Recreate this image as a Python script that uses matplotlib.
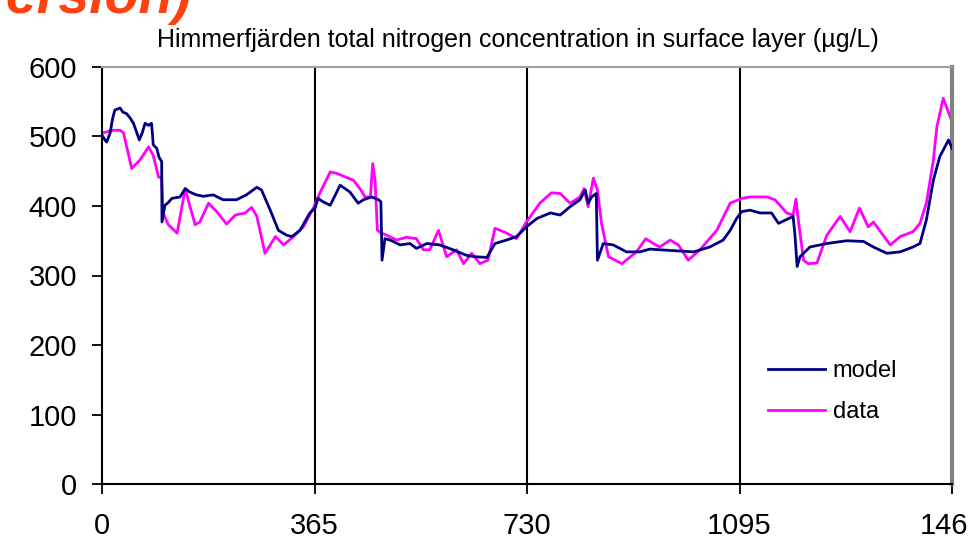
import matplotlib
matplotlib.use('Agg')
import matplotlib.pyplot as plt

plt.rcParams['font.family'] = ['Liberation Sans', 'DejaVu Sans']

# model series (day, ug/L)
model_day = [0, 5, 8, 14, 18, 22, 31, 36, 42, 48, 54, 60, 64, 69, 74, 80, 85, 87, 88, 94,
             98, 102.5, 103, 108, 114, 120, 134, 143, 151, 162, 174, 191, 208, 231, 248,
             266, 274, 289, 303, 317, 326, 340, 357, 366, 371, 380, 392, 409, 426, 440,
             449, 463, 475, 479, 481, 486, 495, 512, 529, 540, 558, 580, 603, 626, 641,
             661, 675, 695, 712, 729, 747, 770, 787, 804, 821, 830, 835, 841, 849, 851,
             861, 878, 901, 924, 941, 958, 1016, 1044, 1067, 1079, 1090, 1099, 1113,
             1130, 1150, 1162, 1187, 1190, 1194, 1199, 1216, 1245, 1279, 1308, 1325,
             1348, 1371, 1393, 1405, 1416, 1428, 1439, 1454, 1460]
model_val = [502, 495, 492, 505, 525, 538, 541, 535, 533, 527, 519, 505, 495, 505, 519, 516,
             519, 500, 488, 483, 470, 464, 377, 401, 405, 411, 413, 425, 420, 416, 414, 416,
             409, 409, 416, 427, 423, 394, 365, 358, 356, 365, 390, 397, 411, 406, 401, 430,
             420, 404, 409, 413, 409, 406, 322, 353, 351, 344, 346, 339, 346, 344, 337, 329,
             327, 326, 346, 351, 356, 370, 382, 390, 387, 399, 409, 423, 404, 413, 418, 322,
             346, 344, 334, 334, 338, 337, 334, 341, 351, 365, 382, 392, 394, 390, 390, 375,
             385, 361, 313, 327, 341, 346, 350, 349, 341, 332, 334, 341, 346, 380, 437, 471,
             495, 483]

# measured data series (day, ug/L)
data_day = [0, 10, 20, 31, 37, 51, 65, 80, 88, 97, 102.5, 105, 114, 129, 143, 148, 160, 168,
            183, 197, 214, 229, 246, 257, 266, 280, 298, 312, 329, 346, 363, 375, 392, 403,
            432, 443, 452, 461, 465, 469, 473, 480, 489, 506, 523, 540, 552, 563, 578, 592,
            609, 621, 635, 649, 663, 675, 695, 712, 729, 752, 772, 787, 804, 821, 828, 835,
            844, 851, 858, 870, 893, 918, 934, 947, 958, 976, 990, 1007, 1027, 1056, 1079,
            1099, 1113, 1142, 1156, 1176, 1187, 1192, 1196, 1205, 1213, 1228, 1245, 1268,
            1285, 1301, 1316, 1325, 1354, 1371, 1393, 1405, 1416, 1428, 1434, 1445, 1460]
data_val = [505, 507, 509, 509, 505, 454, 466, 485, 473, 442, 440, 390, 373, 361, 425, 409,
            373, 377, 404, 392, 374, 387, 390, 398, 385, 332, 356, 344, 356, 370, 397, 420,
            449, 447, 437, 425, 413, 413, 461, 437, 365, 361, 358, 351, 355, 353, 337, 337,
            365, 327, 337, 317, 332, 317, 322, 368, 361, 353, 377, 404, 419, 418, 404, 413,
            425, 399, 440, 423, 375, 327, 317, 334, 353, 346, 341, 351, 344, 322, 337, 365,
            404, 411, 413, 413, 409, 390, 387, 410, 380, 322, 317, 318, 358, 385, 363, 397,
            370, 377, 344, 356, 363, 375, 404, 466, 514, 555, 521]

xticks = [0, 365, 730, 1095, 1460]
yticks = [0, 100, 200, 300, 400, 500, 600]

fig = plt.figure(figsize=(9.68, 5.41), dpi=100)
ax = fig.add_axes([102/968, 57/541, 850/968, 417/541])

for xv in xticks[1:-1]:
    ax.axvline(xv, color='black', lw=1.5, zorder=1)

ax.plot(model_day, model_val, color='#000080', lw=2, label='model', zorder=3)
ax.plot(data_day, data_val, color='#FF00FF', lw=2, label='data', zorder=2)

ax.set_xlim(0, 1460)
ax.set_ylim(0, 600)
ax.set_xticks(xticks)
ax.set_yticks(yticks)
ax.tick_params(axis='both', direction='out', length=7, width=1.3, labelsize=21, colors='black')
ax.tick_params(axis='x', pad=13)
ax.tick_params(axis='y', pad=11)

ax.spines['left'].set_linewidth(1.5)
ax.spines['bottom'].set_linewidth(1.5)
ax.spines['top'].set_color('#a0a0a0')
ax.spines['top'].set_linewidth(1.5)
ax.spines['right'].set_color('#808080')
ax.spines['right'].set_linewidth(3)

ax.legend(loc='center left', bbox_to_anchor=(768/968, (541-391.5)/541),
          bbox_transform=fig.transFigure, frameon=False, fontsize=17,
          handlelength=2.4, handletextpad=0.35, labelspacing=0.8,
          borderpad=0, borderaxespad=0)

fig.text(518/968, (541-47)/541,
         'Himmerfjärden total nitrogen concentration in surface layer (µg/L)',
         ha='center', va='baseline', fontsize=18)
fig.text(-25/968, (541-13)/541, 'version)', ha='left', va='baseline',
         fontsize=40, fontweight='bold', fontstyle='italic', color='#FF4010')

fig.savefig('out.png', dpi=100)
